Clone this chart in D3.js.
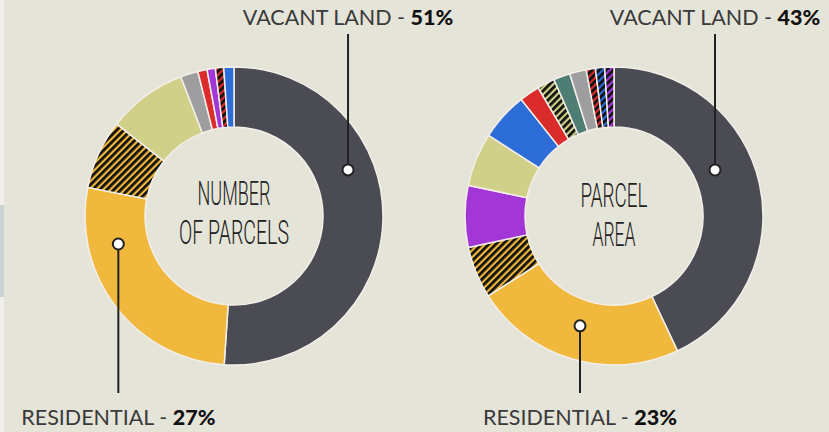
<!DOCTYPE html>
<html lang="en">
<head>
<meta charset="utf-8">
<style>
  body { margin: 0; background: #e5e4d9; }
  svg { display: block; }
  .slice { stroke: #f4eee9; stroke-width: 1.5px; }
  .label { font-family: Lato, "Open Sans", sans-serif; font-size: 21.5px; fill: #3a3a3a; }
  .label .pct { font-weight: 900; fill: #111; }
  .title { font-family: Roboto, sans-serif; font-weight: 300; font-size: 34px; fill: #222; }
  .leader { stroke: #222; stroke-width: 2px; }
  .marker { fill: #fff; stroke: #222; stroke-width: 2px; }
</style>
</head>
<body>
<svg width="829" height="432"></svg>
<script src="https://cdn.jsdelivr.net/npm/d3@7"></script>
<script>
// share of parcels by land use, clockwise from 12 o'clock
var leftCategories = ["Vacant Land", "Residential", "Residential Mixed-Use", "Commercial",
  "Industrial", "Institutional", "Parks", "Institutional Mixed-Use", "Utilities"];
var leftValues = [51, 27, 7.5, 8.6, 1.9, 1.0, 0.9, 0.9, 1.1];

// share of parcel area by land use
var rightCategories = ["Vacant Land", "Residential", "Residential Mixed-Use", "Parks",
  "Commercial", "Utilities", "Institutional", "Commercial Mixed-Use", "Agriculture",
  "Industrial", "Institutional Mixed-Use", "Utilities Mixed-Use", "Parks Mixed-Use"];
var rightValues = [43, 23, 5.6, 6.7, 5.8, 5.2, 2.2, 1.9, 1.8, 1.8, 1.0, 1.0, 1.0];

var titles = [["NUMBER", "OF PARCELS"], ["PARCEL", "AREA"]];
var calloutNames = ["VACANT LAND", "RESIDENTIAL"];
var leftCallouts = ["51%", "27%"];
var rightCallouts = ["43%", "23%"];

var colors = {
  "Vacant Land": "#4b4c53",
  "Residential": "#f0b83c",
  "Commercial": "#d0d089",
  "Industrial": "#9e9ea1",
  "Institutional": "#da2c2b",
  "Parks": "#a236d6",
  "Utilities": "#2c6dd8",
  "Agriculture": "#4e7d74"
};
var hatched = {
  "Residential Mixed-Use": "Residential",
  "Commercial Mixed-Use": "Commercial",
  "Institutional Mixed-Use": "Institutional",
  "Parks Mixed-Use": "Parks",
  "Utilities Mixed-Use": "Utilities"
};

var svg = d3.select("svg");
var outerR = 149, innerR = 89;

svg.append("rect").attr("width", 4).attr("height", 432).attr("fill", "#efeee9");
svg.append("rect").attr("y", 205).attr("width", 4).attr("height", 92).attr("fill", "#c9d3d4");

var defs = svg.append("defs");
Object.keys(hatched).forEach(function(k, i) {
  var p = defs.append("pattern")
      .attr("id", "hatch" + i)
      .attr("patternUnits", "userSpaceOnUse")
      .attr("width", 5).attr("height", 5)
      .attr("patternTransform", "rotate(45)");
  p.append("rect").attr("width", 5).attr("height", 5).attr("fill", colors[hatched[k]]);
  p.append("rect").attr("width", 2.8).attr("height", 5).attr("fill", "#111");
});

function fillFor(cat) {
  if (hatched[cat]) return "url(#hatch" + Object.keys(hatched).indexOf(cat) + ")";
  return colors[cat];
}

var pie = d3.pie().sort(null).value(function(d) { return d.value; });
var arc = d3.arc().innerRadius(innerR).outerRadius(outerR);

var charts = [
  { cx: 234, cy: 216, cats: leftCategories, vals: leftValues, title: titles[0], callouts: leftCallouts,
    tb: [205, 244], tl: [73, 110], marks: [[68, 123], [256.4, 119]] },
  { cx: 614, cy: 216, cats: rightCategories, vals: rightValues, title: titles[1], callouts: rightCallouts,
    tb: [207, 246], tl: [67, 43], marks: [[65.5, 111], [197.2, 115]] }
];

charts.forEach(function(c) {
  var g = svg.append("g").attr("transform", "translate(" + c.cx + "," + c.cy + ")");
  var data = c.cats.map(function(k, i) { return { cat: k, value: c.vals[i] }; });

  g.selectAll("path.slice")
    .data(pie(data))
    .enter().append("path")
      .attr("class", "slice")
      .attr("d", arc)
      .attr("fill", function(d) { return fillFor(d.data.cat); });

  g.selectAll("text.title")
    .data(c.title)
    .enter().append("text")
      .attr("class", "title")
      .attr("text-anchor", "middle")
      .attr("y", function(d, i) { return c.tb[i] - c.cy; })
      .attr("textLength", function(d, i) { return c.tl[i]; })
      .attr("lengthAdjust", "spacingAndGlyphs")
      .text(function(d) { return d; });

  c.marks.forEach(function(m, i) {
    var p = d3.pointRadial(m[0] * Math.PI / 180, m[1]);
    var top = i === 0;
    var labelY = top ? 25 - c.cy : 425 - c.cy;
    g.append("line")
      .attr("class", "leader")
      .attr("x1", p[0]).attr("x2", p[0])
      .attr("y1", p[1]).attr("y2", top ? 34 - c.cy : 393 - c.cy);
    g.append("circle")
      .attr("class", "marker")
      .attr("cx", p[0]).attr("cy", p[1]).attr("r", 5.5);
    var t = g.append("text")
      .attr("class", "label")
      .attr("text-anchor", "middle")
      .attr("x", p[0]).attr("y", labelY);
    t.append("tspan").text(calloutNames[i] + " - ");
    t.append("tspan").attr("class", "pct").text(c.callouts[i]);
  });
});
</script>
</body>
</html>
